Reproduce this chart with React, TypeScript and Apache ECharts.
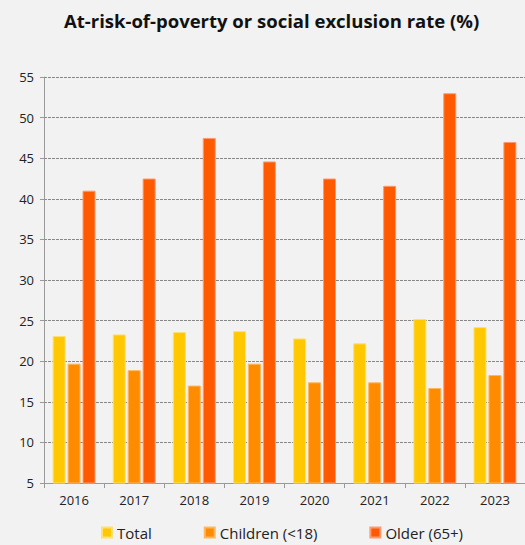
import React, { useEffect, useRef } from "react";
import * as echarts from "echarts";

const years = ["2016", "2017", "2018", "2019", "2020", "2021", "2022", "2023"];
const total = [23.1, 23.3, 23.6, 23.7, 22.8, 22.2, 25.2, 24.2];
const children = [19.7, 18.9, 17.0, 19.7, 17.4, 17.4, 16.7, 18.3];
const older = [41.0, 42.5, 47.5, 44.6, 42.5, 41.6, 53.0, 47.0];
const seriesNames = ["Total", "Children (<18)", "Older (65+)"];
const colors = ["#FFC800", "#FF8C00", "#FF5A00"];
const borders = ["#FFE070", "#FFB860", "#FF9A70"];

export default function App() {
  const ref = useRef<HTMLDivElement>(null);
  useEffect(() => {
    if (!ref.current) return;
    const chart = echarts.init(ref.current, undefined, { renderer: "svg" });
    const font = "Open Sans";
    const data = [total, children, older];
    chart.setOption({
      animation: false,
      backgroundColor: "#F2F2F2",
      title: {
        text: "At-risk-of-poverty or social exclusion rate (%)",
        left: 59,
        top: 6,
        textStyle: { fontFamily: font, fontWeight: "bold", fontSize: 18.5, color: "#111" },
      },
      legend: {
        bottom: 0,
        left: 96,
        itemWidth: 10,
        itemHeight: 10,
        itemGap: 52,
        icon: "rect",
        textStyle: { fontFamily: font, fontSize: 15, color: "#222" },
        data: seriesNames,
      },
      grid: { left: 44, top: 77, width: 486, height: 406, containLabel: false },
      xAxis: {
        type: "category",
        data: years,
        axisLine: { lineStyle: { color: "#999" } },
        axisTick: { show: true, length: 5, lineStyle: { color: "#999" } },
        axisLabel: { fontFamily: font, fontSize: 13, color: "#222", margin: 10 },
      },
      yAxis: {
        type: "value",
        min: 5,
        max: 55,
        interval: 5,
        axisLine: { show: true, lineStyle: { color: "#999" } },
        axisTick: { show: true, length: 4, lineStyle: { color: "#999" } },
        axisLabel: { fontFamily: font, fontSize: 13, color: "#222", margin: 10 },
        splitLine: { lineStyle: { color: "#888", type: [3, 1], width: 1 } },
      },
      series: seriesNames.map((name, i) => ({
        name,
        type: "bar",
        data: data[i],
        barWidth: 13,
        barGap: "15%",
        itemStyle: { color: colors[i], borderColor: borders[i], borderWidth: 1 },
      })),
    });
    return () => chart.dispose();
  }, []);
  return (
    <div
      ref={ref}
      style={{ position: "fixed", left: 0, top: 0, width: 525, height: 545 }}
    />
  );
}
